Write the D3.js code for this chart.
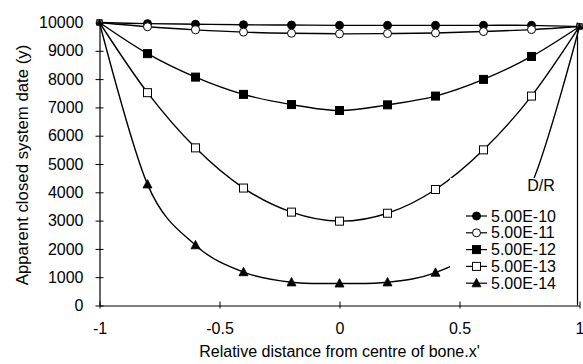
<!DOCTYPE html>
<html>
<head>
<meta charset="utf-8">
<script src="https://cdn.jsdelivr.net/npm/d3@7"></script>
<style>
	body { margin: 0; background: #fff; }
	text { font-family: "Liberation Sans", Arial, sans-serif; fill: #000; }
</style>
</head>
<body>
<script>
// relative distance from centre of bone, x'
let xValues = [-1, -0.8, -0.6, -0.4, -0.2, 0, 0.2, 0.4, 0.6, 0.8, 1];

// D/R values, one series each
let seriesNames = ["5.00E-10", "5.00E-11", "5.00E-12", "5.00E-13", "5.00E-14"];
let seriesShapes = ["circle", "circle", "square", "square", "triangle"];
let seriesFilled = [true, false, true, false, true];

let dr10 = [10000, 9960, 9940, 9920, 9910, 9900, 9900, 9900, 9900, 9900, 9860];
let dr11 = [10000, 9850, 9740, 9660, 9620, 9600, 9610, 9630, 9680, 9750, 9860];
let dr12 = [10000, 8900, 8070, 7460, 7100, 6890, 7090, 7400, 7990, 8800, 9860];
let dr13 = [10000, 7520, 5570, 4150, 3300, 2980, 3260, 4100, 5500, 7400, 9860];
let dr14 = [10000, 4280, 2130, 1180, 820, 780, 820, 1160, 2130, 4280, 9860];

let xTicks = [-1, -0.5, 0, 0.5, 1];
let xTickLabels = ["-1", "-0.5", "0", "0.5", "1"];
let yTicks = [0, 1000, 2000, 3000, 4000, 5000, 6000, 7000, 8000, 9000, 10000];

let xTitle = "Relative distance from centre of bone.x'";
let yTitle = "Apparent closed system date (y)";
let legendTitle = "D/R";

document.addEventListener("DOMContentLoaded", () => {
	let width = 583;
	let height = 364;
	let left = 99.5;
	let right = 579.5;
	let top = 22.5;
	let bottom = 305.5;

	let seriesData = [dr10, dr11, dr12, dr13, dr14];

	let svg = d3.select("body")
		.append("svg")
		.attr("width", width)
		.attr("height", height);

	let xScale = d3.scaleLinear().domain([-1, 1]).range([left, right]);
	let yScale = d3.scaleLinear().domain([0, 10000]).range([bottom, top]);

	// axes with ticks crossing the line
	let yAxis = d3.axisLeft(yScale)
		.tickValues(yTicks)
		.tickFormat(d3.format("d"))
		.tickSizeInner(4)
		.tickSizeOuter(0)
		.tickPadding(12);
	let yg = svg.append("g")
		.attr("transform", "translate(" + left + ",0)")
		.call(yAxis);
	yg.selectAll(".tick line").attr("x1", 4);

	let xAxis = d3.axisBottom(xScale)
		.tickValues(xTicks)
		.tickFormat((d, i) => xTickLabels[i])
		.tickSizeInner(3)
		.tickSizeOuter(0)
		.tickPadding(14);
	let xg = svg.append("g")
		.attr("transform", "translate(0," + bottom + ")")
		.call(xAxis);
	xg.selectAll(".tick line").attr("y1", -4);

	svg.selectAll(".domain").attr("stroke", "#000").attr("stroke-width", 1.2);
	svg.selectAll(".tick line").attr("stroke", "#000");
	svg.selectAll(".tick text")
		.attr("font-size", 16)
		.attr("font-family", "Liberation Sans, Arial, sans-serif")
		.attr("fill", "#000");

	// right edge line
	svg.append("line")
		.attr("x1", xScale(1) - 2)
		.attr("x2", xScale(1) - 2)
		.attr("y1", yScale(10000))
		.attr("y2", yScale(0))
		.attr("stroke", "#000")
		.attr("stroke-width", 1.2);

	let line = d3.line()
		.x((d, i) => xScale(xValues[i]))
		.y((d) => yScale(d))
		.curve(d3.curveCatmullRom.alpha(0));

	function drawMarker(g, shape, filled, cx, cy, s) {
		let fill = filled ? "#000" : "#fff";
		if (shape == "circle") {
			g.append("circle").attr("cx", cx).attr("cy", cy).attr("r", s / 2)
				.attr("fill", fill).attr("stroke", "#000").attr("stroke-width", 1);
		} else if (shape == "square") {
			g.append("rect").attr("x", cx - s / 2).attr("y", cy - s / 2)
				.attr("width", s).attr("height", s)
				.attr("fill", fill).attr("stroke", "#000").attr("stroke-width", 1);
		} else {
			let h = s;
			g.append("path")
				.attr("d", "M" + cx + "," + (cy - h * 0.6) + "L" + (cx + s / 2 + 0.5) + "," + (cy + h * 0.45) + "L" + (cx - s / 2 - 0.5) + "," + (cy + h * 0.45) + "Z")
				.attr("fill", fill).attr("stroke", "#000").attr("stroke-width", 0.8);
		}
	}

	seriesData.forEach((values, k) => {
		let g = svg.append("g").attr("class", "series");
		g.append("path")
			.attr("d", line(values))
			.attr("fill", "none")
			.attr("stroke", "#000")
			.attr("stroke-width", 1.4);
		values.forEach((v, i) => {
			let s = (i == 0 || i == values.length - 1) ? 5 : 8;
			drawMarker(g, seriesShapes[k], seriesFilled[k], xScale(xValues[i]), yScale(v), s);
		});
	});

	// legend sits on a white box over the curves
	let lg = svg.append("g");
	lg.append("rect")
		.attr("x", 450)
		.attr("y", 178)
		.attr("width", 125)
		.attr("height", 114)
		.attr("fill", "#fff");
	lg.append("text")
		.attr("x", 541)
		.attr("y", 191)
		.attr("text-anchor", "middle")
		.attr("font-size", 16)
		.text(legendTitle);
	seriesNames.forEach((name, k) => {
		let cy = 216 + k * 16.8;
		lg.append("line")
			.attr("x1", 466).attr("x2", 487)
			.attr("y1", cy).attr("y2", cy)
			.attr("stroke", "#000").attr("stroke-width", 1.2);
		drawMarker(lg, seriesShapes[k], seriesFilled[k], 476.5, cy, 8);
		lg.append("text")
			.attr("x", 491)
			.attr("y", cy + 5.5)
			.attr("font-size", 16)
			.text(name);
	});

	// axis titles
	svg.append("text")
		.attr("x", (left + right) / 2)
		.attr("y", 357)
		.attr("text-anchor", "middle")
		.attr("font-size", 16)
		.text(xTitle);
	svg.append("text")
		.attr("transform", "translate(28,165) rotate(-90)")
		.attr("text-anchor", "middle")
		.attr("font-size", 16.8)
		.text(yTitle);
});
</script>
</body>
</html>
